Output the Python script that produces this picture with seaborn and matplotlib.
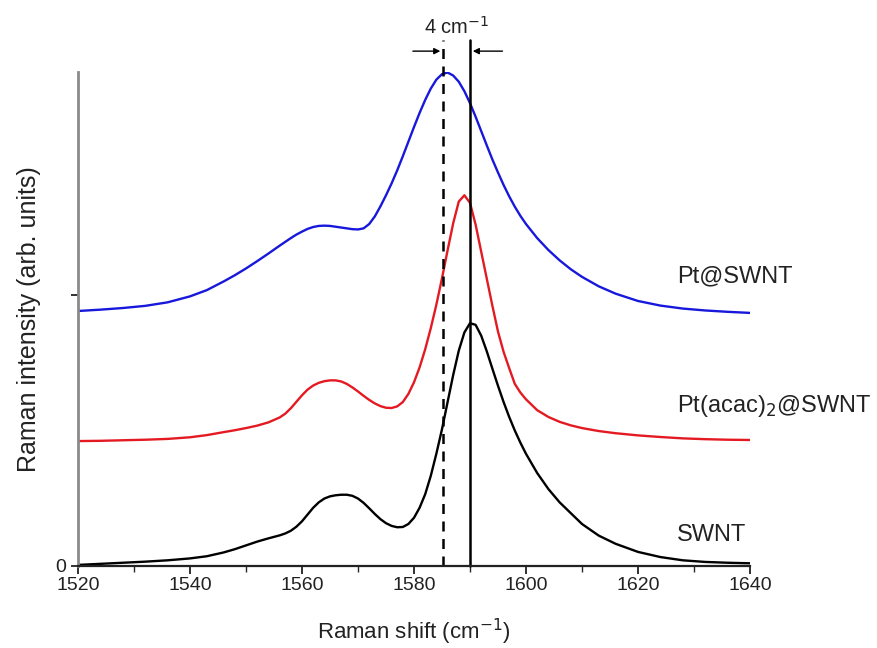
import numpy as np
import pandas as pd
import matplotlib
matplotlib.use("Agg")
import matplotlib.pyplot as plt
from matplotlib.ticker import MultipleLocator
import seaborn as sns

# Raman shift (cm-1)
shift = [1520, 1524, 1528, 1532, 1536, 1540, 1543, 1546, 1548, 1550, 1552, 1554, 1556,
         1557, 1558, 1559, 1560, 1561, 1562, 1563, 1564, 1565, 1566,
         1567, 1568, 1569, 1570, 1571, 1572, 1573, 1574, 1575, 1576,
         1577, 1578, 1579, 1580, 1581, 1582, 1583, 1584, 1585, 1586,
         1587, 1588, 1589, 1590, 1591, 1592, 1593, 1594, 1595, 1596,
         1597, 1598, 1599, 1600,
         1602, 1604, 1606, 1608, 1610, 1613, 1616, 1620, 1624, 1628, 1632, 1636, 1640]

# intensidades (unidades arbitrarias, ya desplazadas)
swnt = [0.004, 0.008, 0.012, 0.016, 0.021, 0.028, 0.036, 0.050, 0.062, 0.076, 0.090, 0.102, 0.113,
        0.120, 0.130, 0.145, 0.165, 0.190, 0.215, 0.235, 0.249, 0.257, 0.261,
        0.263, 0.263, 0.259, 0.249, 0.233, 0.213, 0.192, 0.173, 0.158, 0.148,
        0.143, 0.144, 0.155, 0.178, 0.215, 0.265, 0.333, 0.415, 0.505, 0.605,
        0.705, 0.795, 0.862, 0.896, 0.890, 0.850, 0.792, 0.728, 0.665, 0.605,
        0.550, 0.500, 0.455, 0.414,
        0.343, 0.284, 0.235, 0.195, 0.155, 0.112, 0.082, 0.052, 0.033, 0.021, 0.015, 0.012, 0.010]
pt_acac = [0.461, 0.462, 0.464, 0.466, 0.469, 0.475, 0.483, 0.494, 0.501, 0.509, 0.518, 0.530, 0.548,
           0.562, 0.582, 0.606, 0.630, 0.651, 0.666, 0.676, 0.682, 0.685, 0.685,
           0.681, 0.672, 0.659, 0.644, 0.628, 0.613, 0.600, 0.590, 0.584, 0.583,
           0.589, 0.605, 0.635, 0.678, 0.733, 0.800, 0.878, 0.965, 1.062, 1.165,
           1.265, 1.345, 1.368, 1.340, 1.260, 1.160, 1.060, 0.960, 0.865, 0.790,
           0.730, 0.672, 0.640, 0.615,
           0.575, 0.550, 0.532, 0.519, 0.509, 0.498, 0.490, 0.482, 0.476, 0.471, 0.468, 0.466, 0.465]
pt_swnt = [0.941, 0.946, 0.952, 0.960, 0.973, 0.995, 1.018, 1.050, 1.073, 1.098, 1.125, 1.153, 1.182,
           1.196, 1.210, 1.223, 1.234, 1.244, 1.251, 1.255, 1.256, 1.255, 1.252,
           1.249, 1.246, 1.243, 1.242, 1.246, 1.262, 1.290, 1.327, 1.368, 1.412,
           1.460, 1.512, 1.566, 1.620, 1.672, 1.720, 1.762, 1.795, 1.815, 1.821,
           1.810, 1.787, 1.752, 1.708, 1.658, 1.605, 1.552, 1.500, 1.452, 1.406,
           1.364, 1.326, 1.292, 1.262,
           1.210, 1.166, 1.128, 1.095, 1.067, 1.032, 1.005, 0.978, 0.961, 0.950, 0.943, 0.938, 0.934]

labels = ['Pt@SWNT', 'Pt(acac)$_2$@SWNT', 'SWNT']
label_y = [1.07, 0.59, 0.115]
colores = ['#1818dc', '#e41a22', 'black']

pico_pt = 1585.2
pico_swnt = 1590.0

df = pd.DataFrame({'shift': shift, 'SWNT': swnt, 'Pt(acac)2@SWNT': pt_acac, 'Pt@SWNT': pt_swnt})

sns.set_style('ticks')
plt.rcParams['font.family'] = ['Liberation Sans', 'DejaVu Sans']

fig = plt.figure(figsize=(8.77, 6.48), dpi=100)
ax = fig.add_axes([78 / 877, 1 - 566 / 648, 672 / 877, 494 / 648])

for col, c in zip(['Pt@SWNT', 'Pt(acac)2@SWNT', 'SWNT'], colores):
    sns.lineplot(data=df, x='shift', y=col, color=c, lw=1.7, ax=ax)

ax.set_xlim(1520, 1640)
ax.set_ylim(0, 1.823)
ax.xaxis.set_major_locator(MultipleLocator(20))
ax.xaxis.set_minor_locator(MultipleLocator(10))
ax.set_yticks([0, 1])
ax.set_yticklabels(['0', ''])
ax.tick_params(axis='both', labelsize=14, colors='#222222')
ax.tick_params(axis='x', which='major', length=6, width=1.3, direction='out', pad=2)
ax.tick_params(axis='x', which='minor', length=4, width=1.0, direction='out')
ax.tick_params(axis='y', length=5, width=1.3, direction='out')

for s in ['top', 'right']:
    ax.spines[s].set_visible(False)
ax.spines['left'].set_color('#8a8a8a')
ax.spines['left'].set_linewidth(2)
ax.spines['bottom'].set_color('#222222')
ax.spines['bottom'].set_linewidth(1.6)

ax.set_xlabel('Raman shift (cm$^{-1}$)', fontsize=16, color='#222222', labelpad=16)
ax.set_ylabel('Raman intensity (arb. units)', fontsize=18, color='#222222', labelpad=10)

for lab, yy in zip(labels, label_y):
    ax.text(1627, yy, lab, fontsize=17, color='#222222', va='center', ha='left', clip_on=False)

# lineas de pico
ax.plot([pico_pt, pico_pt], [0, 1.94], color='black', lw=1.8, ls=(0, (4, 3)), clip_on=False)
ax.plot([pico_swnt, pico_swnt], [0, 1.94], color='black', lw=1.8, clip_on=False)
ax.annotate('', xy=(pico_pt, 1.90), xytext=(1579.3, 1.90),
            arrowprops=dict(arrowstyle='-|>', color='black', lw=1, mutation_scale=9), annotation_clip=False)
ax.annotate('', xy=(pico_swnt, 1.90), xytext=(1596.3, 1.90),
            arrowprops=dict(arrowstyle='-|>', color='black', lw=1, mutation_scale=9), annotation_clip=False)
ax.text((pico_pt + pico_swnt) / 2, 1.99, '4 cm$^{-1}$', fontsize=14.5, ha='center', va='center',
        color='#222222', clip_on=False)

fig.savefig('out.png', dpi=100)
